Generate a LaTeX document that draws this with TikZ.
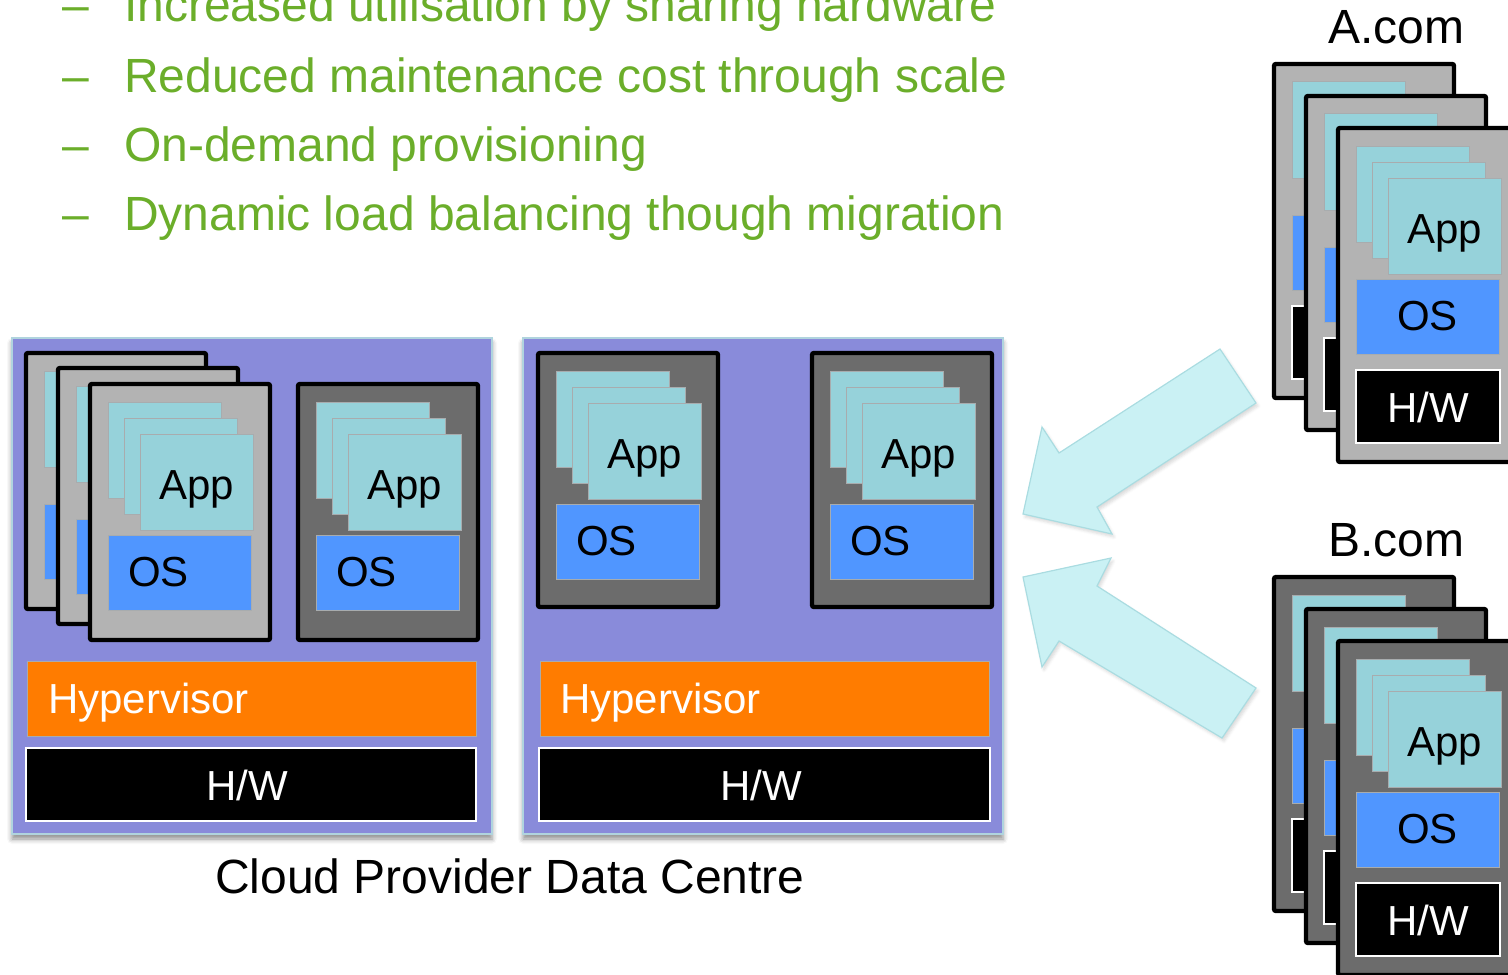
\documentclass[tikz,border=0pt]{standalone}
\usepackage{fontspec}
\setmainfont{Liberation Sans}
\usetikzlibrary{calc,shadows,shadows.blur}

\definecolor{dcpurple}{RGB}{137,139,218}
\definecolor{dcedge}{RGB}{176,212,222}
\definecolor{vmlight}{RGB}{179,179,179}
\definecolor{vmdark}{RGB}{108,108,108}
\definecolor{appteal}{RGB}{150,210,218}
\definecolor{appedge}{RGB}{168,172,174}
\definecolor{osblue}{RGB}{80,150,255}
\definecolor{hvorange}{RGB}{255,124,0}
\definecolor{bulletgreen}{RGB}{107,174,42}
\definecolor{arrowfill}{RGB}{202,241,244}
\definecolor{arrowedge}{RGB}{170,220,225}

\tikzset{
  dcbox/.style={fill=dcpurple, draw=dcedge, line width=1pt,
    blur shadow={shadow xshift=0pt, shadow yshift=-2.5pt, shadow blur radius=2.5pt,
      shadow opacity=45}},
  vmbox/.style={draw=black, line width=2.2pt, rounded corners=1pt},
  appbox/.style={fill=appteal, draw=appedge, line width=0.5pt},
  osbox/.style={fill=osblue, draw=appedge, line width=0.5pt},
  hwbox/.style={fill=black, draw=white, line width=1pt},
  hvbox/.style={fill=hvorange, draw=appedge, line width=0.5pt},
  lbl/.style={font=\fontsize{21}{25}\selectfont, inner sep=0pt, outer sep=0pt},
  big/.style={font=\fontsize{24}{29}\selectfont, inner sep=0pt, outer sep=0pt},
  bullet/.style={big, text=bulletgreen},
  migrate/.style={fill=arrowfill, draw=arrowedge, line width=0.6pt,
    blur shadow={shadow xshift=1pt, shadow yshift=-1.5pt, shadow blur radius=1.5pt,
      shadow opacity=15}}
}

% plain rectangle: name, x, y, width, height, style (pixel units)
\newcommand{\blk}[6]{%
  \node[#6, anchor=north west, minimum width=#4*0.5pt, minimum height=#5*0.5pt,
        inner sep=0pt, outer sep=0pt] (#1) at (#2,#3) {};}

% VM card: name, x, y, fill, height, with hardware layer (1/0)
\newcommand{\vmcard}[6]{%
  \blk{#1}{#2}{#3}{180}{#5}{vmbox, fill=#4}
  \blk{#1a1}{#2+18}{#3+18}{113}{96}{appbox}
  \blk{#1a2}{#2+34}{#3+34}{113}{96}{appbox}
  \blk{#1a3}{#2+50}{#3+50}{113}{96}{appbox}
  \blk{#1os}{#2+18}{#3+151}{143}{75}{osbox}
  \ifnum#6=1 \blk{#1hw}{#2+18}{#3+242}{144}{73}{hwbox}\fi}

% labels of the front card: name, x, y, OS centred (1/0), hardware label (1/0)
\newcommand{\cardlabels}[5]{%
  \node[lbl, anchor=base] (#1appt) at (#2+106.5,#3+115) {App};
  \ifnum#4=1
    \node[lbl, anchor=base] (#1ost) at (#2+89.5,#3+202) {OS};
  \else
    \node[lbl, anchor=base west] (#1ost) at (#2+38,#3+202) {OS};
  \fi
  \ifnum#5=1 \node[lbl, anchor=base, text=white] (#1hwt) at (#2+90,#3+294) {H/W};\fi}

\begin{document}
\begin{tikzpicture}[x=0.5pt,y=-0.5pt]
\useasboundingbox (0,0) rectangle (1508,974);
\clip (0,0) rectangle (1508,974);

% benefits list
\foreach \yy/\txt [count=\i] in {22/Increased utilisation by sharing hardware,
    92/Reduced maintenance cost through scale,
    161/On-demand provisioning,
    230/Dynamic load balancing though migration}{
  \node[bullet, anchor=base west] (dash\i) at (62,\yy) {–};
  \node[bullet, anchor=base west] (item\i) at (124,\yy) {\txt};
}

% data centre, first host
\blk{dcA}{12}{338}{480}{496}{dcbox}
\vmcard{vA1}{26}{353}{vmlight}{256}{0}
\vmcard{vA2}{58}{368}{vmlight}{256}{0}
\vmcard{vA3}{90}{384}{vmlight}{256}{0}
\cardlabels{vA3}{90}{384}{0}{0}
\vmcard{vA4}{298}{384}{vmdark}{256}{0}
\cardlabels{vA4}{298}{384}{0}{0}
\blk{hvA}{27}{661}{449}{75}{hvbox}
\node[lbl, anchor=base west, text=white] (hvAt) at (48,713) {Hypervisor};
\blk{hwA}{26}{748}{450}{73}{hwbox}
\node[lbl, anchor=base, text=white] (hwAt) at (247,800) {H/W};

% data centre, second host
\blk{dcB}{523}{338}{480}{496}{dcbox}
\vmcard{vB1}{538}{353}{vmdark}{254}{0}
\cardlabels{vB1}{538}{353}{0}{0}
\vmcard{vB2}{812}{353}{vmdark}{254}{0}
\cardlabels{vB2}{812}{353}{0}{0}
\blk{hvB}{540}{661}{449}{75}{hvbox}
\node[lbl, anchor=base west, text=white] (hvBt) at (560,713) {Hypervisor};
\blk{hwB}{539}{748}{451}{73}{hwbox}
\node[lbl, anchor=base, text=white] (hwBt) at (761,800) {H/W};

\node[big, anchor=base west] (dctitle) at (215,893) {Cloud Provider Data Centre};

% customer A
\node[big, anchor=base west] (acom) at (1328,44) {A.com};
\vmcard{cA1}{1274}{64}{vmlight}{334}{1}
\vmcard{cA2}{1306}{96}{vmlight}{334}{1}
\vmcard{cA3}{1338}{128}{vmlight}{334}{1}
\cardlabels{cA3}{1338}{128}{1}{1}

% customer B
\node[big, anchor=base west] (bcom) at (1328,556) {B.com};
\vmcard{cB1}{1274}{577}{vmdark}{334}{1}
\vmcard{cB2}{1306}{609}{vmdark}{334}{1}
\vmcard{cB3}{1338}{641}{vmdark}{334}{1}
\cardlabels{cB3}{1338}{641}{1}{1}

% migration arrows
\draw[migrate] (1220,349) -- (1256,403) -- (1097,507) -- (1112,534)
  -- (1023,514) -- (1042,427) -- (1059,453) -- cycle;
\draw[migrate] (1222,738) -- (1256,688) -- (1097,586) -- (1111,558)
  -- (1023,577) -- (1042,667) -- (1059,641) -- cycle;
\end{tikzpicture}
\end{document}
